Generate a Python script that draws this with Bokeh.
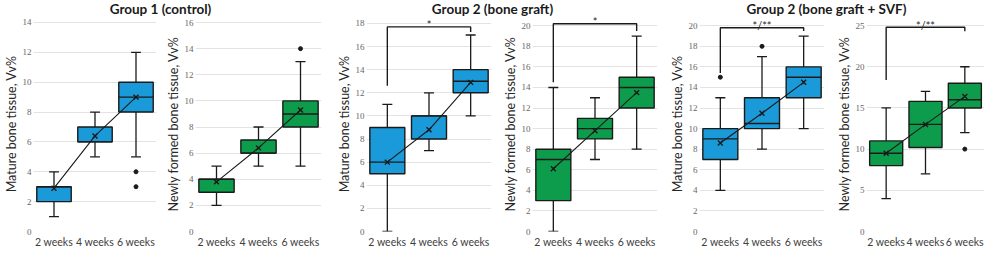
from bokeh.plotting import figure
from bokeh.layouts import row, column
from bokeh.models import ColumnDataSource, Label, FixedTicker, Range1d
from bokeh.embed import file_html
from bokeh.resources import INLINE

weeks = ["2 weeks", "4 weeks", "6 weeks"]

BLUE = "#1a9ad8"
GREEN = "#0d9c4c"

# Panel 1: Group 1, mature bone tissue
p1_low = [1, 5, 5]
p1_q1 = [2, 6, 8]
p1_med = [3, 6, 9]
p1_q3 = [3, 7, 10]
p1_high = [4, 8, 12]
p1_mean = [2.9, 6.4, 9.0]
p1_out_x = ["6 weeks", "6 weeks"]
p1_out_y = [4, 3]
p1_ticks = [0, 2, 4, 6, 8, 10, 12, 14]

# Panel 2: Group 1, newly formed bone tissue
p2_low = [2, 5, 5]
p2_q1 = [3, 6, 8]
p2_med = [4, 6, 9]
p2_q3 = [4, 7, 10]
p2_high = [5, 8, 13]
p2_mean = [3.8, 6.4, 9.3]
p2_out_x = ["6 weeks"]
p2_out_y = [14]
p2_ticks = [0, 2, 4, 6, 8, 10, 12, 14, 16]

# Panel 3: Group 2 (bone graft), mature bone tissue
p3_low = [0, 7, 10]
p3_q1 = [5, 8, 12]
p3_med = [6, 10, 13]
p3_q3 = [9, 10, 14]
p3_high = [11, 12, 17]
p3_mean = [6.0, 8.8, 12.9]
p3_out_x = []
p3_out_y = []
p3_ticks = [0, 2, 4, 6, 8, 10, 12, 14, 16, 18]
p3_bracket = [12.6, 17.7, 17.25]
p3_sig = "*"

# Panel 4: Group 2 (bone graft), newly formed bone tissue
p4_low = [0, 7, 8]
p4_q1 = [3, 9, 12]
p4_med = [7, 10, 14]
p4_q3 = [8, 11, 15]
p4_high = [14, 13, 19]
p4_mean = [6.1, 9.8, 13.5]
p4_out_x = []
p4_out_y = []
p4_ticks = [0, 2, 4, 6, 8, 10, 12, 14, 16, 18, 20]
p4_bracket = [14.5, 20.2, 19.5]
p4_sig = "*"

# Panel 5: Group 2 (bone graft + SVF), mature bone tissue
p5_low = [4, 8, 10]
p5_q1 = [7, 10, 13]
p5_med = [9, 10.5, 15]
p5_q3 = [10, 13, 16]
p5_high = [13, 17, 19]
p5_mean = [8.6, 11.5, 14.5]
p5_out_x = ["2 weeks", "4 weeks"]
p5_out_y = [15, 18]
p5_ticks = [0, 2, 4, 6, 8, 10, 12, 14, 16, 18, 20]
p5_bracket = [15.4, 19.8, 19.5]
p5_sig = "*/**"

# Panel 6: Group 2 (bone graft + SVF), newly formed bone tissue
p6_low = [4, 7, 12]
p6_q1 = [8, 10.2, 15]
p6_med = [9.5, 13, 16]
p6_q3 = [11, 15.8, 18]
p6_high = [15, 17, 20]
p6_mean = [9.5, 13.0, 16.4]
p6_out_x = ["6 weeks"]
p6_out_y = [10]
p6_ticks = [0, 5, 10, 15, 20, 25]
p6_bracket = [18.4, 24.8, 24.3]
p6_sig = "*/**"

titles = ["Group 1 (control)", "Group 2 (bone graft)", "Group 2 (bone graft + SVF)"]
ylab_mature = "Mature bone tissue, Vv%"
ylab_new = "Newly formed bone tissue, Vv%"

FIG_H = 234
BOX_W = 0.84
CAP_W = 0.24
FONT = "Lato"

# category -> slot centre on the numeric x axis (one unit per category)
xpos = {w: i + 0.5 for i, w in enumerate(weeks)}


def panel(ylabel, color, low, q1, med, q3, high, mean, out_x, out_y, ticks, yend,
          fig_w, right_border, bracket=None, sig=None):
    p = figure(x_range=Range1d(0, len(weeks)), y_range=Range1d(0, yend),
               width=fig_w, height=FIG_H, output_backend="svg",
               toolbar_location=None, min_border_top=0, min_border_bottom=16,
               min_border_left=24, min_border_right=right_border)
    p.outline_line_color = None
    p.background_fill_color = "white"
    p.xgrid.grid_line_color = None
    p.ygrid.grid_line_color = "#e3e3e3"
    p.yaxis.ticker = FixedTicker(ticks=ticks)
    p.xaxis.ticker = FixedTicker(ticks=[xpos[w] for w in weeks])
    p.xaxis.major_label_overrides = {xpos[w]: w for w in weeks}
    for ax in (p.xaxis[0], p.yaxis[0]):
        ax.axis_line_color = None
        ax.major_tick_line_color = None
        ax.minor_tick_line_color = None
        ax.major_tick_out = 0
        ax.major_tick_in = 0
    p.xaxis.major_label_text_font = FONT
    p.xaxis.major_label_text_font_size = "10.5px"
    p.xaxis.major_label_text_color = "#404040"
    p.xaxis.major_label_standoff = 4
    p.yaxis.major_label_text_font = "Liberation Serif"
    p.yaxis.major_label_text_font_size = "9px"
    p.yaxis.major_label_text_color = "#666666"
    p.yaxis.major_label_standoff = 2
    p.yaxis.axis_label = ylabel
    p.yaxis.axis_label_text_font = FONT
    p.yaxis.axis_label_text_font_style = "normal"
    p.yaxis.axis_label_text_font_size = "12.5px"
    p.yaxis.axis_label_text_color = "#262626"
    p.yaxis.axis_label_standoff = 1

    xs = [xpos[w] for w in weeks]
    src = ColumnDataSource(dict(x=xs,
                                xl=[x - BOX_W / 2 for x in xs], xr=[x + BOX_W / 2 for x in xs],
                                cl=[x - CAP_W / 2 for x in xs], cr=[x + CAP_W / 2 for x in xs],
                                low=low, q1=q1, med=med, q3=q3, high=high, mean=mean))
    ink = "#1a1a1a"
    # whisker stems
    p.segment(x0="x", y0="low", x1="x", y1="high", source=src, line_color=ink, line_width=1.3)
    # caps
    for col in ("low", "high"):
        p.segment(x0="cl", y0=col, x1="cr", y1=col, source=src, line_color=ink, line_width=1.3)
    # boxes
    p.quad(left="xl", right="xr", top="q3", bottom="q1", source=src,
           fill_color=color, line_color=ink, line_width=1.4)
    # medians
    p.segment(x0="xl", y0="med", x1="xr", y1="med", source=src, line_color=ink, line_width=1.4)
    # mean line and markers
    p.line(x="x", y="mean", source=src, line_color=ink, line_width=1.1)
    p.scatter(x="x", y="mean", source=src, marker="x", size=7, line_color=ink, line_width=1.4)
    # outliers
    if out_x:
        p.scatter(x=[xpos[w] for w in out_x], y=out_y, marker="circle", size=4,
                  fill_color=ink, line_color=ink)
    # significance bracket
    if bracket is not None:
        bx = [xpos[weeks[0]], xpos[weeks[0]], xpos[weeks[2]], xpos[weeks[2]]]
        by = [bracket[0], bracket[1], bracket[1], bracket[2]]
        p.line(x=bx, y=by, line_color=ink, line_width=1.4)
        p.add_layout(Label(x=xpos[weeks[1]], y=bracket[1], text=sig, text_align="center",
                           text_baseline="alphabetic", y_offset=2,
                           text_font=FONT, text_font_size="11px",
                           text_color="#262626"))
    return p


f1 = panel(ylab_mature, BLUE, p1_low, p1_q1, p1_med, p1_q3, p1_high, p1_mean,
           p1_out_x, p1_out_y, p1_ticks, 14.4, 162, 6)
f2 = panel(ylab_new, GREEN, p2_low, p2_q1, p2_med, p2_q3, p2_high, p2_mean,
           p2_out_x, p2_out_y, p2_ticks, 16.46, 171, 12)
f3 = panel(ylab_mature, BLUE, p3_low, p3_q1, p3_med, p3_q3, p3_high, p3_mean,
           p3_out_x, p3_out_y, p3_ticks, 18.6, 166, 8, p3_bracket, p3_sig)
f4 = panel(ylab_new, GREEN, p4_low, p4_q1, p4_med, p4_q3, p4_high, p4_mean,
           p4_out_x, p4_out_y, p4_ticks, 20.9, 167, 9, p4_bracket, p4_sig)
f5 = panel(ylab_mature, BLUE, p5_low, p5_q1, p5_med, p5_q3, p5_high, p5_mean,
           p5_out_x, p5_out_y, p5_ticks, 20.9, 167, 9, p5_bracket, p5_sig)
f6 = panel(ylab_new, GREEN, p6_low, p6_q1, p6_med, p6_q3, p6_high, p6_mean,
           p6_out_x, p6_out_y, p6_ticks, 26.1, 153, 2, p6_bracket, p6_sig)

panels_row = row(f1, f2, f3, f4, f5, f6, spacing=0)

tf = figure(width=986, height=16, output_backend="svg", toolbar_location=None,
            x_range=Range1d(0, 986), y_range=Range1d(0, 16), min_border=0)
tf.axis.visible = False
tf.grid.visible = False
tf.outline_line_color = None
for t, cx in zip(titles, [160, 492, 826]):
    tf.add_layout(Label(x=cx, y=8, x_units="screen", y_units="screen", text=t,
                        text_align="center", text_baseline="middle",
                        text_font=FONT, text_font_style="bold",
                        text_font_size="13.5px", text_color="#1a1a1a"))

layout = column(tf, panels_row, spacing=0)

open("out.html", "w").write(file_html(layout, INLINE))
